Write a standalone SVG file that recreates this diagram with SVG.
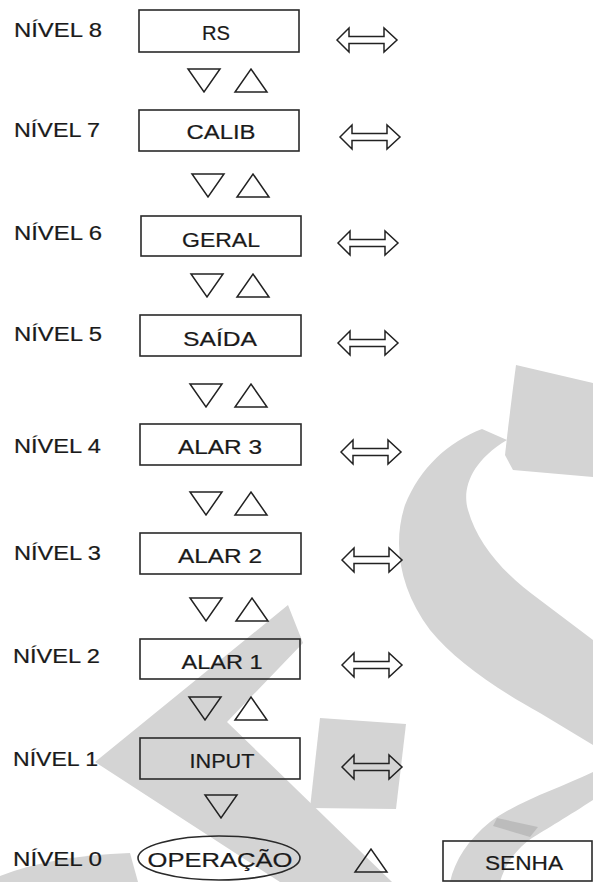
<svg xmlns="http://www.w3.org/2000/svg" xmlns:xlink="http://www.w3.org/1999/xlink" width="593" height="882" viewBox="0 0 593 882">
<style>
.wm{fill:#d4d4d4;stroke:none}
.box{fill:none;stroke:#2a2a2a;stroke-width:1.6}
.sym{fill:none;stroke:#222;stroke-width:1.5;stroke-linejoin:miter}
.lbl{font-family:"Liberation Sans",Arial,sans-serif;font-size:20px;fill:#1a1a1a;stroke:#1a1a1a;stroke-width:0.2}
.bt{font-family:"Liberation Sans",Arial,sans-serif;font-size:20.5px;fill:#1a1a1a;stroke:#1a1a1a;stroke-width:0.2;text-anchor:middle}
</style>
<defs>
<path id="tdown" class="sym" d="M0,0 L32,0 L16,23 Z"/>
<path id="tup" class="sym" d="M0,23 L32,23 L16,0 Z"/>
<path id="darr" class="sym" d="M0,0 L12,-12 L12,-3.5 L47,-3.5 L47,-12 L60,0 L47,12 L47,3.5 L12,3.5 L12,12 Z"/>
</defs>
<rect width="593" height="882" fill="#fff"/>
<g id="watermark">
<path class="wm" d="M516,365 L593,383 L593,477 L513,470 L505,455 Q510,410 516,365 Z"/>
<path class="wm" d="M482,429 L507,440 C470,462 462,490 468,510 C478,545 505,575 540,600 L593,640 L593,745 L540,713 C490,685 455,660 430,630 C400,590 392,545 405,505 C420,468 448,442 482,429 Z"/>
<path class="wm" d="M593,772 L593,800 C570,815 545,830 532,838 C515,850 505,865 500,882 L450,882 C455,860 468,840 490,822 C520,800 560,788 593,772 Z"/>
<path fill="#bcbcbc" d="M497,818 L538,827 L530,837 L493,826 Z"/>
<path class="wm" d="M288,605 L303,643 L227,722 L392,882 L280,882 L95,762 Z"/>
<path class="wm" d="M320,718 L406,724 L396,809 L310,808 Z"/>
<path class="wm" d="M0,882 L0,876 Q50,856 130,853 L138,882 Z"/>
</g>
<g id="connectors">
<use xlink:href="#tdown" x="188" y="69"/><use xlink:href="#tup" x="235" y="69"/>
<use xlink:href="#tdown" x="192" y="174"/><use xlink:href="#tup" x="237" y="174"/>
<use xlink:href="#tdown" x="191" y="274"/><use xlink:href="#tup" x="237" y="274"/>
<use xlink:href="#tdown" x="190" y="384"/><use xlink:href="#tup" x="235" y="384"/>
<use xlink:href="#tdown" x="190" y="492"/><use xlink:href="#tup" x="235" y="492"/>
<use xlink:href="#tdown" x="190" y="598"/><use xlink:href="#tup" x="236" y="598"/>
<use xlink:href="#tdown" x="189" y="697"/><use xlink:href="#tup" x="235" y="697"/>
<use xlink:href="#tdown" x="205" y="795"/>
<use xlink:href="#tup" x="355" y="849"/>
<use xlink:href="#darr" x="337" y="40"/>
<use xlink:href="#darr" x="340" y="137"/>
<use xlink:href="#darr" x="338" y="243"/>
<use xlink:href="#darr" x="338" y="343"/>
<use xlink:href="#darr" x="341" y="452"/>
<use xlink:href="#darr" x="342" y="560"/>
<use xlink:href="#darr" x="342" y="665"/>
<use xlink:href="#darr" x="342" y="767"/>
</g>
<g id="n8"><text class="lbl" x="14" y="37" textLength="88" lengthAdjust="spacingAndGlyphs">NÍVEL 8</text><rect class="box" x="139" y="10" width="160" height="42"/><text class="bt" x="216" y="40" textLength="28" lengthAdjust="spacingAndGlyphs">RS</text></g>
<g id="n7"><text class="lbl" x="14" y="137" textLength="86" lengthAdjust="spacingAndGlyphs">NÍVEL 7</text><rect class="box" x="139" y="110" width="160" height="41"/><text class="bt" x="221" y="139" textLength="69" lengthAdjust="spacingAndGlyphs">CALIB</text></g>
<g id="n6"><text class="lbl" x="14" y="240" textLength="88" lengthAdjust="spacingAndGlyphs">NÍVEL 6</text><rect class="box" x="141" y="216" width="160" height="40"/><text class="bt" x="221" y="247" textLength="78" lengthAdjust="spacingAndGlyphs">GERAL</text></g>
<g id="n5"><text class="lbl" x="14" y="341" textLength="88" lengthAdjust="spacingAndGlyphs">NÍVEL 5</text><rect class="box" x="140" y="315" width="161" height="41"/><text class="bt" x="220" y="346" textLength="74" lengthAdjust="spacingAndGlyphs">SAÍDA</text></g>
<g id="n4"><text class="lbl" x="14" y="453" textLength="87" lengthAdjust="spacingAndGlyphs">NÍVEL 4</text><rect class="box" x="140" y="424" width="161" height="41"/><text class="bt" x="220" y="454" textLength="84" lengthAdjust="spacingAndGlyphs">ALAR 3</text></g>
<g id="n3"><text class="lbl" x="14" y="560" textLength="87" lengthAdjust="spacingAndGlyphs">NÍVEL 3</text><rect class="box" x="140" y="533" width="161" height="41"/><text class="bt" x="220" y="563" textLength="84" lengthAdjust="spacingAndGlyphs">ALAR 2</text></g>
<g id="n2"><text class="lbl" x="13" y="663" textLength="87" lengthAdjust="spacingAndGlyphs">NÍVEL 2</text><rect class="box" x="140" y="639" width="160" height="40"/><text class="bt" x="222" y="669" textLength="81" lengthAdjust="spacingAndGlyphs">ALAR 1</text></g>
<g id="n1"><text class="lbl" x="13" y="766" textLength="85" lengthAdjust="spacingAndGlyphs">NÍVEL 1</text><rect class="box" x="140" y="738" width="160" height="41"/><text class="bt" x="222" y="768" textLength="65" lengthAdjust="spacingAndGlyphs">INPUT</text></g>
<g id="n0"><text class="lbl" x="13" y="866" textLength="89" lengthAdjust="spacingAndGlyphs">NÍVEL 0</text><ellipse class="box" cx="219" cy="858" rx="81" ry="22"/><text class="bt" x="220" y="867" textLength="145" lengthAdjust="spacingAndGlyphs">OPERAÇÃO</text></g>
<g id="senha"><rect class="box" x="443" y="841" width="149" height="40"/><text class="bt" x="524" y="870" textLength="78" lengthAdjust="spacingAndGlyphs">SENHA</text></g>
</svg>
